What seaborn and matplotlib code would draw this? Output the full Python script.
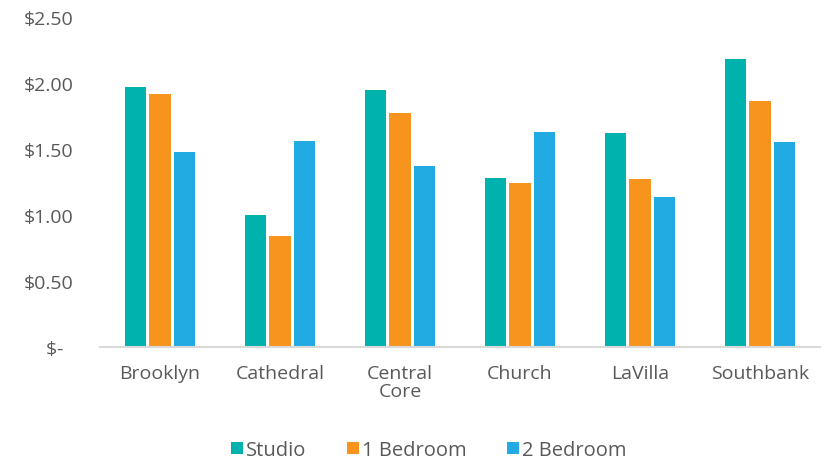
import matplotlib
matplotlib.use("Agg")
import matplotlib.pyplot as plt
import seaborn as sns
import pandas as pd

# Average rent per square foot by neighborhood and unit type
neighborhoods = ["Brooklyn", "Cathedral", "Central\nCore", "Church", "LaVilla", "Southbank"]
unit_types = ["Studio", "1 Bedroom", "2 Bedroom"]
studio = [1.97, 1.00, 1.95, 1.28, 1.62, 2.18]
one_bedroom = [1.92, 0.84, 1.77, 1.24, 1.27, 1.86]
two_bedroom = [1.48, 1.56, 1.37, 1.63, 1.14, 1.55]
colors = ["#00B2AE", "#F7941E", "#22AAE2"]

y_ticks = [0, 0.5, 1.0, 1.5, 2.0, 2.5]
y_tick_labels = ["$-  ", "$0.50", "$1.00", "$1.50", "$2.00", "$2.50"]

rows = []
for series, values in zip(unit_types, [studio, one_bedroom, two_bedroom]):
    for hood, v in zip(neighborhoods, values):
        rows.append({"Neighborhood": hood, "Unit": series, "Rent": v})
df = pd.DataFrame(rows)

sns.set_style("white")
plt.rcParams["font.family"] = ["Open Sans", "DejaVu Sans"]
text_color = "#595959"

fig = plt.figure(figsize=(8.37, 4.64), dpi=100)
ax = fig.add_axes([100 / 837, 1 - 348 / 464, 720 / 837, 330 / 464])

sns.barplot(data=df, x="Neighborhood", y="Rent", hue="Unit",
            order=neighborhoods, hue_order=unit_types, palette=colors,
            width=0.62, gap=0.15, saturation=1, errorbar=None,
            linewidth=0, edgecolor="none", ax=ax)

ax.set_ylim(0, 2.5)
ax.set_xlim(-0.5, len(neighborhoods) - 0.5)
ax.set_yticks(y_ticks)
ax.set_yticklabels(y_tick_labels)
ax.set_xlabel("")
ax.set_ylabel("")
ax.tick_params(axis="both", length=0, labelsize=14, colors=text_color)
ax.tick_params(axis="y", pad=19)
ax.tick_params(axis="x", pad=12)
for lbl in ax.get_xticklabels():
    lbl.set_linespacing(1.0)

for side in ["top", "right", "left"]:
    ax.spines[side].set_visible(False)
ax.spines["bottom"].set_color("#D9D9D9")
ax.spines["bottom"].set_linewidth(1.5)

handles, labels = ax.get_legend_handles_labels()
ax.get_legend().remove()
fig.legend(handles, labels, loc="center", bbox_to_anchor=(429 / 837, 1 - 451 / 464),
           ncol=3, frameon=False, fontsize=14.5,
           handlelength=0.6, handleheight=0.6, handletextpad=0.15, columnspacing=2.0,
           labelcolor=text_color)

fig.savefig("out.png", dpi=100, facecolor="white")
